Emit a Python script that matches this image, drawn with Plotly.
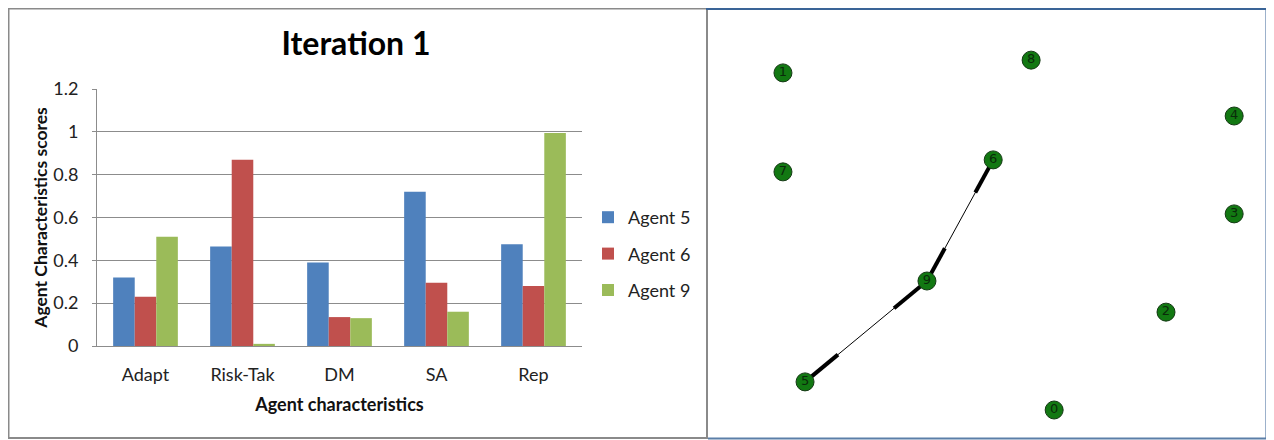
import plotly.graph_objects as go

W, H = 1274, 440
OFF = 8  # page offset of the figure (body margin)

# ---- data ----
categories = ["Adapt", "Risk-Tak", "DM", "SA", "Rep"]
agent5 = [0.32, 0.465, 0.39, 0.72, 0.475]
agent6 = [0.23, 0.87, 0.135, 0.295, 0.28]
agent9 = [0.51, 0.01, 0.13, 0.16, 0.995]
series_names = ["Agent 5", "Agent 6", "Agent 9"]
y_ticks = [0, 0.2, 0.4, 0.6, 0.8, 1, 1.2]
y_tick_labels = ["0", "0.2", "0.4", "0.6", "0.8", "1", "1.2"]

node_ids = ["0", "1", "2", "3", "4", "5", "6", "7", "8", "9"]
node_x = [0.592, 0.027, 0.825, 0.967, 0.967, 0.073, 0.465, 0.027, 0.544, 0.327]
node_y = [0.040, 0.939, 0.301, 0.563, 0.824, 0.115, 0.707, 0.675, 0.973, 0.384]
edges = [(5, 9), (9, 6)]
stub_frac = 0.27

colors = ["#4F81BD", "#C0504D", "#9BBB59"]
FONT = "Lato, Carlito, 'Open Sans', sans-serif"


def fx(p):
    return max(p - OFF, 0.5) / W


def fy(p):
    return 1 - max(p - OFF, 0.5) / H


fig = go.Figure()

for name, vals, col in zip(series_names, [agent5, agent6, agent9], colors):
    fig.add_trace(go.Bar(
        x=categories, y=vals, name=name, marker=dict(color=col, line=dict(width=0)),
        xaxis="x", yaxis="y", legendgroup=name, showlegend=True,
    ))

# ---- network ----
for a, b in edges:
    xa, ya, xb, yb = node_x[a], node_y[a], node_x[b], node_y[b]
    fig.add_trace(go.Scatter(x=[xa, xb], y=[ya, yb], mode="lines",
                             line=dict(color="black", width=1), xaxis="x2", yaxis="y2",
                             showlegend=False, hoverinfo="skip"))
    for (x0, y0, x1, y1) in [(xa, ya, xb, yb), (xb, yb, xa, ya)]:
        xs = x0 + (x1 - x0) * stub_frac
        ys = y0 + (y1 - y0) * stub_frac
        fig.add_trace(go.Scatter(x=[x0, xs], y=[y0, ys], mode="lines",
                                 line=dict(color="black", width=4), xaxis="x2", yaxis="y2",
                                 showlegend=False, hoverinfo="skip"))

fig.add_trace(go.Scatter(
    x=node_x, y=node_y, text=node_ids, mode="markers+text", textposition="middle center",
    marker=dict(size=18, color="#127812", line=dict(color="#143814", width=1)),
    textfont=dict(family="DejaVu Sans, sans-serif", size=13, color="#0a2a0a"),
    xaxis="x2", yaxis="y2", showlegend=False, hoverinfo="skip", cliponaxis=False,
))

shapes = [
    dict(type="rect", xref="paper", yref="paper", x0=fx(4.5), x1=fx(707), y0=fy(438), y1=fy(5),
         line=dict(color="#8a8a8a", width=2), layer="above"),
    dict(type="line", xref="paper", yref="paper", x0=fx(706), x1=fx(1267), y0=fy(3.5), y1=fy(3.5),
         line=dict(color="#3A6497", width=3), layer="above"),
    dict(type="line", xref="paper", yref="paper", x0=fx(1267), x1=fx(1267), y0=fy(3.5), y1=fy(439),
         line=dict(color="#3A6497", width=3), layer="above"),
    dict(type="line", xref="paper", yref="paper", x0=fx(708), x1=fx(1267), y0=fy(438.5), y1=fy(438.5),
         line=dict(color="#5B7FA8", width=2), layer="above"),
]

fig.update_layout(
    template="none",
    width=W, height=H, margin=dict(l=0, r=0, t=0, b=0, autoexpand=False),
    paper_bgcolor="white", plot_bgcolor="white",
    font=dict(family=FONT, color="#222222"),
    barmode="group", bargap=0.333, bargroupgap=0,
    title=dict(text="<b>Iteration 1</b>", x=fx(356), xanchor="center", y=fy(44), yanchor="middle",
               font=dict(size=32, family=FONT, color="black")),
    xaxis=dict(domain=[fx(97), fx(582)], anchor="y", showgrid=False, showline=True, automargin=False,
               linecolor="#8c8c8c", linewidth=1, ticks="", ticklabelstandoff=12,
               tickfont=dict(size=18, color="#222"),
               title=dict(text="<b>Agent characteristics</b>", font=dict(size=18, color="#111"), standoff=14),
               fixedrange=True, zeroline=False),
    yaxis=dict(domain=[fy(346), fy(89)], anchor="x", range=[0, 1.2], tickvals=y_ticks, automargin=False,
               ticktext=y_tick_labels, showgrid=True, gridcolor="#8c8c8c", gridwidth=1,
               showline=True, linecolor="#8c8c8c", linewidth=1, ticks="outside", ticklen=4,
               tickcolor="#8c8c8c", ticklabelstandoff=10, tickfont=dict(size=18, color="#222"), zeroline=False,
               title=dict(text="<b>Agent Characteristics scores</b>", font=dict(size=17.5, color="#111"), standoff=1),
               fixedrange=True),
    xaxis2=dict(domain=[fx(770), fx(1250)], anchor="y2", range=[0, 1], visible=False, fixedrange=True,
                automargin=False),
    yaxis2=dict(domain=[fy(425), fy(50)], anchor="x2", range=[0, 1], visible=False, fixedrange=True,
                automargin=False),
    legend=dict(x=fx(588), y=fy(199), xanchor="left", yanchor="top", traceorder="grouped",
                tracegroupgap=10, font=dict(size=18, color="#222"), bgcolor="rgba(0,0,0,0)",
                itemwidth=30),
    shapes=shapes,
    showlegend=True,
)

fig.write_html("out.html")
